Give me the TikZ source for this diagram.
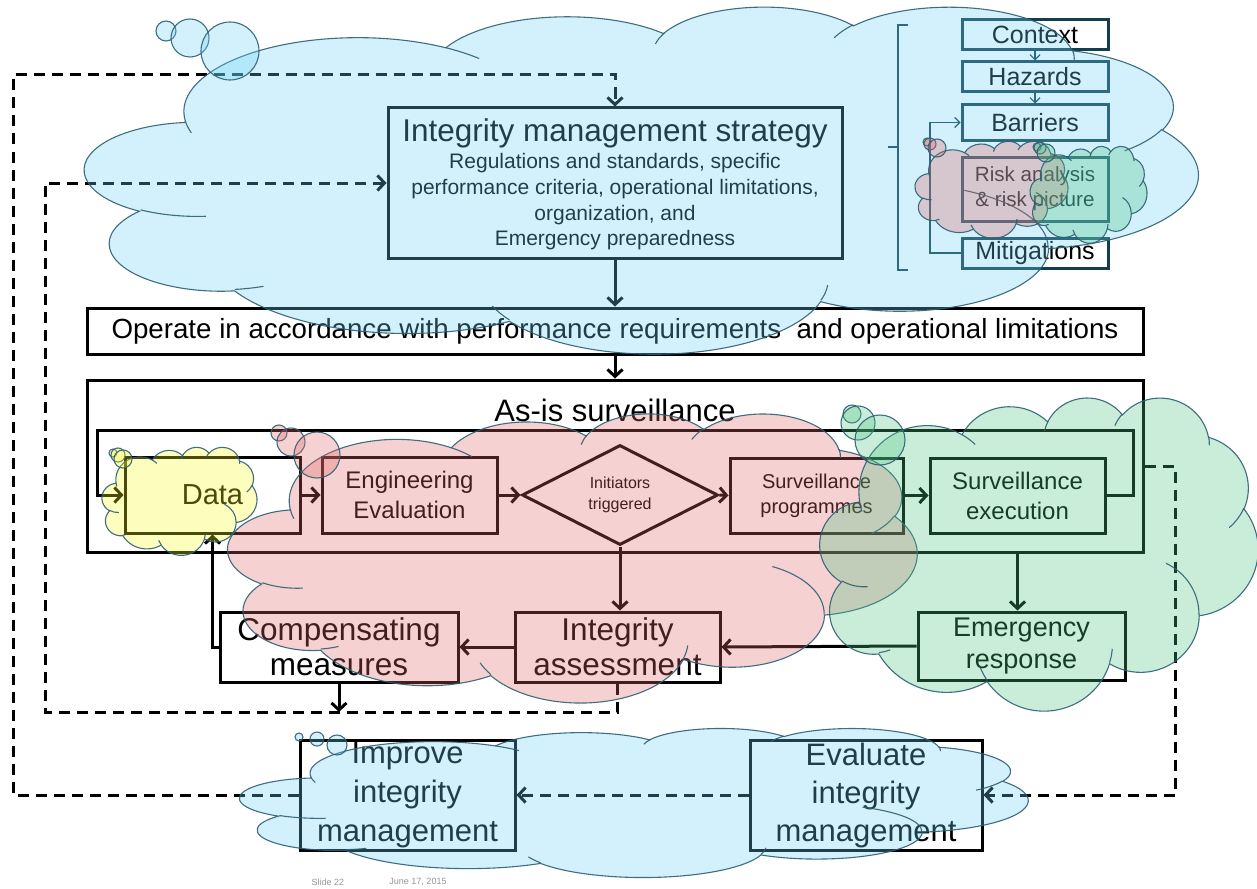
\documentclass[tikz,border=0pt]{standalone}
\usepackage{fontspec}
\setmainfont{Liberation Sans}
\usetikzlibrary{arrows.meta,shapes.geometric,calc}

\definecolor{cloudline}{RGB}{45,95,115}
\definecolor{cblue}{RGB}{108,208,245}
\definecolor{cpink}{RGB}{224,102,102}
\definecolor{cgreen}{RGB}{75,197,130}
\definecolor{cyellow}{RGB}{248,248,38}
\definecolor{colbox}{RGB}{18,63,80}
\definecolor{footgrey}{RGB}{150,150,150}

% Cloud outline built from elliptical arcs on a 432 x 432 grid,
% placed with its box corner at (#1,#2), width #3, height #4, fill colour #5.
\newcommand{\pptcloud}[5]{%
  \begin{scope}[shift={(#1,#2)}, xscale={#3/432}, yscale={#4/432}]
    \draw[cloudskin, fill=#5] (39.00,143.70)
      arc[x radius=67.53, y radius=91.90,  start angle=-187.745, end angle=-59.64]
      arc[x radius=53.33, y radius=72.67,  start angle=-152.04, end angle=-45.46]
      arc[x radius=43.65, y radius=59.45,  start angle=-153.49, end angle=-37.32]
      arc[x radius=48.57, y radius=65.95,  start angle=-139.71, end angle=-10.21]
      arc[x radius=53.33, y radius=72.73,  start angle=-74.77,  end angle=23.21]
      arc[x radius=67.75, y radius=92.20,  start angle=-37.52,  end angle=81.86]
      arc[x radius=57.85, y radius=78.67,  start angle=0.46,    end angle=121.98]
      arc[x radius=67.52, y radius=92.15,  start angle=16.84,   end angle=146.22]
      arc[x radius=77.20, y radius=105.43, start angle=58.98,   end angle=150.19]
      arc[x radius=43.60, y radius=59.18,  start angle=83.31,   end angle=223.11]
      arc[x radius=43.45, y radius=59.45,  start angle=120.36,  end angle=264.11]
      -- cycle;
    \draw[cloudseam] (46.93,261.77)  arc[x radius=43.45, y radius=59.45, start angle=85.55,   end angle=120.36];
    \draw[cloudseam] (69.28,348.99)  arc[x radius=43.60, y radius=59.18, start angle=68.24,   end angle=83.31];
    \draw[cloudseam] (164.78,390.90) arc[x radius=67.52, y radius=92.15, start angle=146.22,  end angle=158.47];
    \draw[cloudseam] (288.27,347.51) arc[x radius=67.52, y radius=92.15, start angle=4.74,    end angle=16.84];
    \draw[cloudseam] (341.29,229.54) arc[x radius=57.85, y radius=78.67, start angle=-64.03,  end angle=0.46];
    \draw[cloudseam] (417.98,153.54) arc[x radius=53.33, y radius=72.73, start angle=23.21,   end angle=49.64];
    \draw[cloudseam] (383.24,54.26)  arc[x radius=48.57, y radius=65.95, start angle=-10.21,  end angle=0.82];
    \draw[cloudseam] (290.78,39.52)  arc[x radius=48.57, y radius=65.95, start angle=-156.28, end angle=-139.71];
    \draw[cloudseam] (221.41,47.20)  arc[x radius=43.65, y radius=59.45, start angle=-167.73, end angle=-153.49];
    \draw[cloudseam] (140.00,51.92)  arc[x radius=67.53, y radius=91.90, start angle=-59.64,  end angle=-45.74];
    \draw[cloudseam] (41.27,157.89)  arc[x radius=67.53, y radius=91.90, start angle=163.20,  end angle=172.25];
  \end{scope}}

\begin{document}
\begin{tikzpicture}[x=1pt,y=-1pt,
  box/.style={draw, line width=3pt, inner sep=0pt, align=center},
  colcell/.style={draw=colbox, line width=3pt, inner sep=0pt, align=center,
    minimum width=146pt, font=\fontsize{25}{28}\selectfont},
  link/.style={line width=3pt, -{Straight Barb[length=7pt,width=15pt]}},
  dashlink/.style={line width=3pt, dash pattern=on 11pt off 7pt,
    -{Straight Barb[length=7pt,width=15pt]}},
  thinlink/.style={line width=1.2pt, draw=colbox, -{Straight Barb[length=5pt,width=10pt]}},
  thinline/.style={line width=1.2pt, draw=colbox},
  cloudskin/.style={draw=cloudline, line width=1.1pt, fill opacity=0.3, draw opacity=0.9},
  cloudseam/.style={draw=cloudline, line width=1.1pt, draw opacity=0.9},
  bubble/.style={draw=cloudline, line width=1.1pt, fill opacity=0.3, draw opacity=0.9}]

\useasboundingbox (0,0) rectangle (1257,888);

% ---------- strategy block ----------
\node[box, minimum width=454pt, minimum height=150pt] (strat) at (615,183) {};
\node[font=\fontsize{31.5}{36}\selectfont] (strattitle) at (615,133) {Integrity management strategy};
\node[align=center, font=\fontsize{21}{25.7}\selectfont] (stratbody) at (615,202)
  {Regulations and standards, specific\\performance criteria, operational limitations,\\organization, and\\Emergency preparedness};

% ---------- risk column ----------
\node[colcell, minimum height=30pt] (context) at (1035,35) {Context};
\node[colcell, minimum height=30pt] (hazards) at (1035,77) {Hazards};
\node[colcell, minimum height=35pt] (barriers) at (1035,122.5) {Barriers};
\node[colcell, minimum height=64pt, font=\fontsize{20.6}{25}\selectfont] (risk) at (1035,189) {Risk analysis\\\& risk picture};
\node[colcell, minimum height=30pt] (mitig) at (1035,253) {Mitigations};
\draw[thinlink] (context.south) -- (hazards.north);
\draw[thinlink] (hazards.south) -- (barriers.north);
\coordinate (fb1) at (930,253);
\coordinate (fb2) at (930,122.5);
\draw[thinlink] (mitig.west) -- (fb1) -- (fb2) -- (barriers.west);
\draw[thinline] (908,25) -- (898,25) -- (898,270) -- (908,270);
\draw[thinline] (898,147) -- (888,147);

% ---------- operate and surveillance ----------
\node[box, minimum width=1056pt, minimum height=46pt, font=\fontsize{27.7}{30}\selectfont] (operate) at (615,331)
  {Operate in accordance with performance requirements\ \ and operational limitations};
\node[box, minimum width=1056pt, minimum height=172pt] (asis) at (615,466) {};
\node[font=\fontsize{31}{34}\selectfont] (asistitle) at (615,410) {As-is surveillance};

\node[box, minimum width=175pt, minimum height=76pt, font=\fontsize{29}{32}\selectfont] (data) at (212.5,495) {Data};
\node[box, minimum width=175pt, minimum height=76pt, font=\fontsize{24}{30}\selectfont] (eng) at (409.5,495) {Engineering\\Evaluation};
\node[diamond, draw, line width=3pt, inner sep=0pt, minimum width=196pt, minimum height=100pt,
  align=center, font=\fontsize{16}{21}\selectfont] (init) at (620,495) {Initiators\\triggered};
\node[box, minimum width=173pt, minimum height=75pt, font=\fontsize{20}{25}\selectfont] (sprog) at (816.5,495.5) {Surveillance\\programmes};
\node[box, minimum width=175pt, minimum height=75pt, font=\fontsize{24}{30}\selectfont] (sexec) at (1017.5,495.5) {Surveillance\\execution};

\node[box, minimum width=205pt, minimum height=70pt, font=\fontsize{31.5}{35}\selectfont] (integ) at (617.5,647) {Integrity\\assessment};
\node[box, minimum width=238pt, minimum height=70pt, font=\fontsize{31.5}{35}\selectfont] (comp) at (339,647) {Compensating\\measures};
\node[box, minimum width=207pt, minimum height=68pt, font=\fontsize{27}{32}\selectfont] (emerg) at (1021.5,646) {\raisebox{0pt}{Emergency}\\response};

\node[box, minimum width=215pt, minimum height=110pt, font=\fontsize{31}{39}\selectfont] (improve) at (407.5,795) {Improve\\integrity\\management};
\node[box, minimum width=232pt, minimum height=110pt, font=\fontsize{31}{38}\selectfont] (evaluate) at (866,795) {Evaluate\\integrity\\management};

% ---------- solid connectors ----------
\draw[link] (strat.south) -- (operate.north);
\draw[link] (operate.south) -- (asis.north);
\coordinate (lp1) at (1133,495.5);
\coordinate (lp2) at (1133,430);
\coordinate (lp3) at (97,430);
\coordinate (lp4) at (97,495);
\draw[link] (sexec.east) -- (lp1) -- (lp2) -- (lp3) -- (lp4) -- (data.west);
\draw[link] (data.east) -- (eng.west);
\draw[link] (eng.east) -- (init.west);
\draw[link] (init.east) -- (sprog.west);
\draw[link] (sprog.east) -- (sexec.west);
\draw[link] (init.south) -- (init.south |- integ.north);
\draw[link] (sexec.south |- asis.south) -- (sexec.south |- emerg.north);
\draw[link] (emerg.west) -- (integ.east);
\draw[link] (integ.west) -- (comp.east);
\draw[link] (comp.west) -| (data.south);
\coordinate (cm1) at (339,712);
\draw[link] (comp.south) -- (cm1);

% ---------- dashed feedback loops ----------
\coordinate (ol1) at (13,795);
\coordinate (ol2) at (13,75);
\coordinate (ol3) at (615,75);
\draw[dashlink] (improve.west) -- (ol1) -- (ol2) -- (ol3) -- (strat.north);
\coordinate (il1) at (617.5,712);
\coordinate (il2) at (45,712);
\coordinate (il3) at (45,183);
\draw[dashlink] (integ.south) -- (il1) -- (il2) -- (il3) -- (strat.west);
\coordinate (rl1) at (1175,466);
\coordinate (rl2) at (1175,795);
\draw[dashlink] (asis.east) -- (rl1) -- (rl2) -- (evaluate.east);
\draw[dashlink] (evaluate.west) -- (improve.east);

% ---------- clouds with their bubble trails ----------
\pptcloud{85}{6}{1113}{347}{cblue}
\draw[bubble, fill=cblue] (166,31) circle[radius=10];
\draw[bubble, fill=cblue] (190,38) circle[radius=19];
\draw[bubble, fill=cblue] (230,51) circle[radius=29];

\pptcloud{915}{141}{153}{97}{cpink}
\draw[bubble, fill=cpink] (927,142) circle[radius=4];
\draw[bubble, fill=cpink] (930,144) circle[radius=6];
\draw[bubble, fill=cpink] (937,148) circle[radius=9];
\pptcloud{1030}{146}{117}{97}{cgreen}
\draw[bubble, fill=cgreen] (1037,147) circle[radius=4];
\draw[bubble, fill=cgreen] (1040,148) circle[radius=6];
\draw[bubble, fill=cgreen] (1046,153) circle[radius=9];

\pptcloud{228}{413}{689}{289}{cpink}
\draw[bubble, fill=cpink] (279,433) circle[radius=8];
\draw[bubble, fill=cpink] (291,442) circle[radius=14];
\draw[bubble, fill=cpink] (317,455) circle[radius=23];

\pptcloud{820}{397}{438}{313}{cgreen}
\draw[bubble, fill=cgreen] (852,414) circle[radius=9];
\draw[bubble, fill=cgreen] (858,423) circle[radius=17];
\draw[bubble, fill=cgreen] (880,440) circle[radius=25];

\pptcloud{102}{447}{155}{108}{cyellow}
\draw[bubble, fill=cyellow] (113,453) circle[radius=4];
\draw[bubble, fill=cyellow] (118,455) circle[radius=7];
\draw[bubble, fill=cyellow] (123,459) circle[radius=9];

\pptcloud{240}{728}{788}{149}{cblue}
\draw[bubble, fill=cblue] (299,737) circle[radius=4];
\draw[bubble, fill=cblue] (317,739) circle[radius=7];
\draw[bubble, fill=cblue] (337,745) circle[radius=10];

% ---------- footer ----------
\node[text=footgrey, font=\fontsize{9}{10}\selectfont] (slideno) at (328,882) {Slide 22};
\node[text=footgrey, font=\fontsize{9}{10}\selectfont] (slidedate) at (418,882) {June 17, 2015};
\end{tikzpicture}
\end{document}
